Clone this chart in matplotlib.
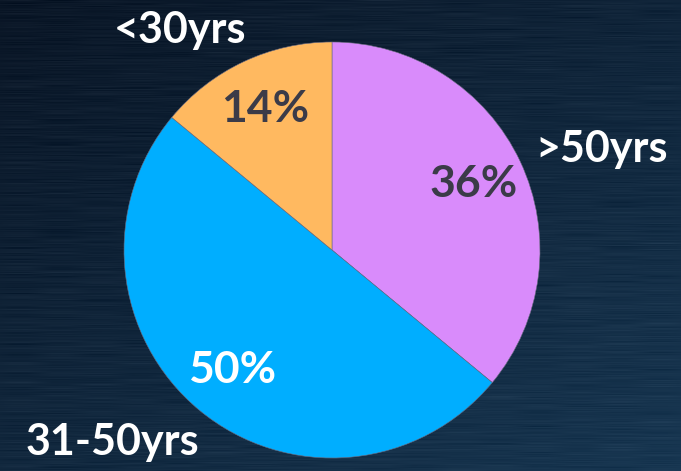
import numpy as np
import matplotlib
matplotlib.use("Agg")
import matplotlib.pyplot as plt

# age groups, clockwise from 12 o'clock
groups = [">50yrs", "31-50yrs", "<30yrs"]
shares = [36, 50, 14]
colors = ["#d98bfb", "#00aeff", "#ffb960"]
pct_colors = ["#3b3b48", "#ffffff", "#3b3b48"]
# outer label anchors: centre x, baseline y (pixels from top-left)
label_xy = [(602, 162), (112, 455), (180, 43)]

W, H = 681, 471
fig = plt.figure(figsize=(W / 100, H / 100), dpi=100)

# dark navy backdrop, lighter toward bottom right, with faint brushed streaks
bg = fig.add_axes([0, 0, 1, 1])
ny, nx = H, W
yy, xx = np.mgrid[0:1:ny * 1j, 0:1:nx * 1j]
t = np.clip(0.55 * yy + 0.45 * xx, 0, 1)
top = np.array([0x0a, 0x16, 0x26]) / 255
bot = np.array([0x18, 0x37, 0x52]) / 255
img = top + (bot - top) * t[..., None]
rng = np.random.default_rng(3)
streak = rng.normal(0, 1, (ny, nx // 40 + 2))
streak = np.repeat(streak, 40, axis=1)[:, :nx]
k = np.ones(25) / 25
streak = np.apply_along_axis(lambda row: np.convolve(row, k, mode="same"), 1, streak)
img = np.clip(img + 0.012 * streak[..., None], 0, 1)
bg.imshow(img, extent=[0, 1, 0, 1], aspect="auto", origin="upper")
bg.axis("off")

ax = fig.add_axes([0, 0, 1, 1])
ax.axis("off")
cx, cy, r = 332, H - 250, 208
wedges, _, pcts = ax.pie(shares, colors=colors, startangle=90, counterclock=False,
                         center=(cx, cy), radius=r, autopct="%d%%", pctdistance=0.75,
                         wedgeprops=dict(edgecolor="#6a6a80", linewidth=0.4),
                         textprops=dict(fontsize=32, fontweight="bold", family="Lato"))
ax.set_xlim(0, W); ax.set_ylim(0, H); ax.set_aspect("equal")
for p, c in zip(pcts, pct_colors):
    p.set_color(c)

for g, (x, y) in zip(groups, label_xy):
    ax.text(x, H - y, g, ha="center", va="baseline", color="white",
            fontsize=31, fontweight="bold", family="Lato")

fig.savefig("out.png", dpi=100)
